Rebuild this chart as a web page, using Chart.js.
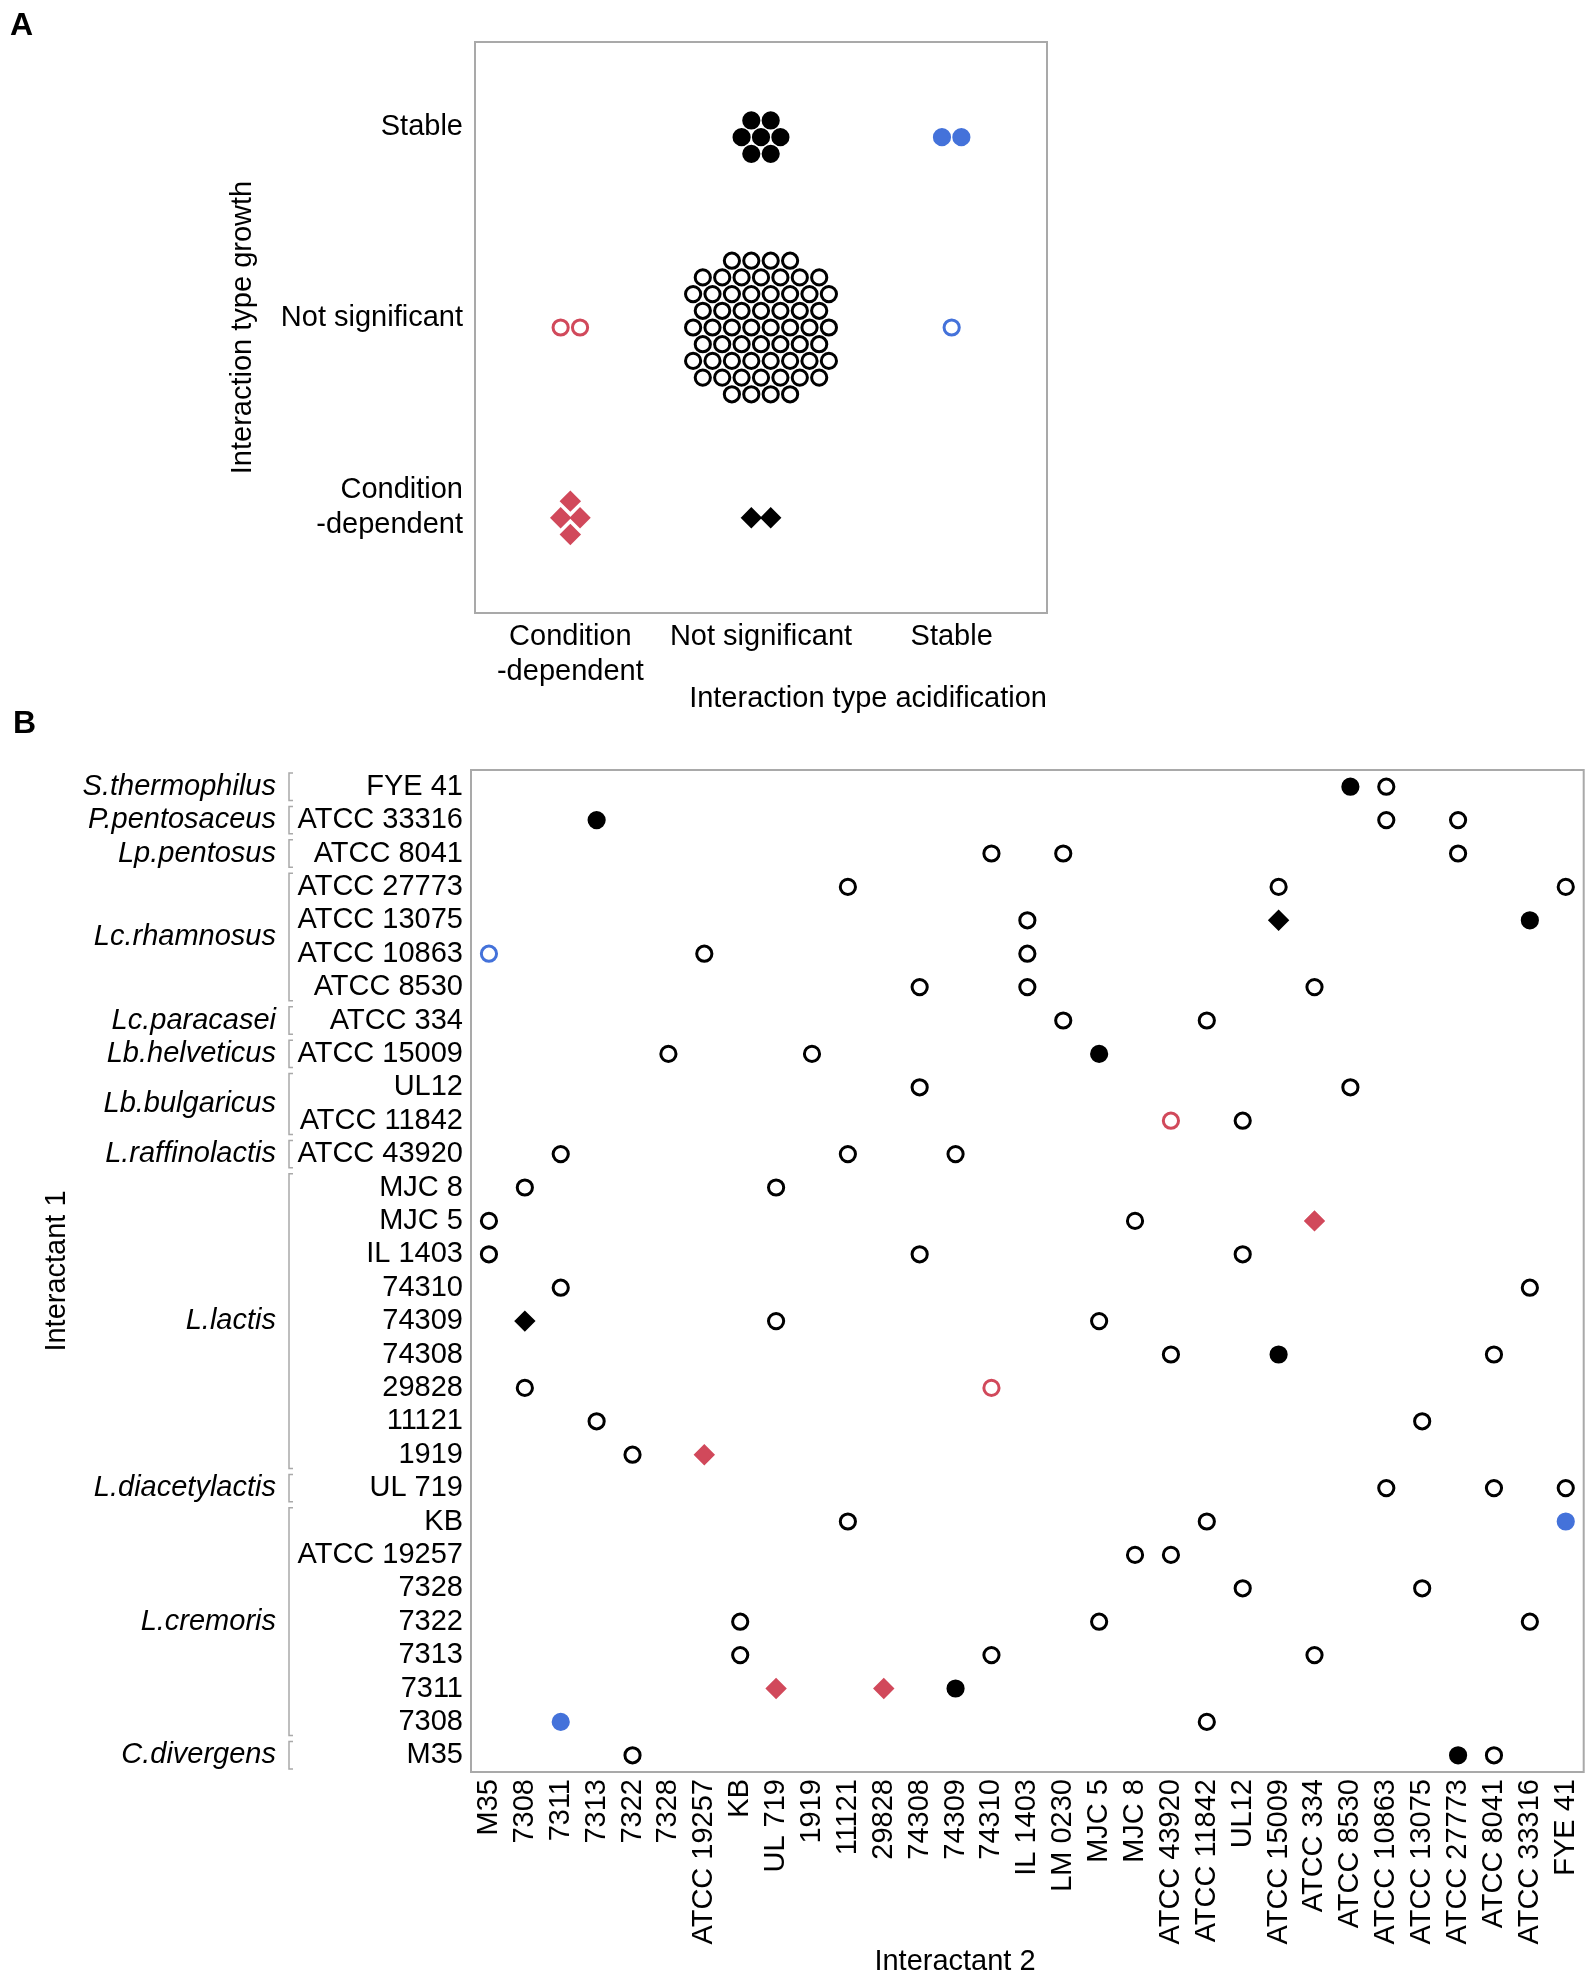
<!DOCTYPE html>
<html>
<head>
<meta charset="utf-8">
<script src="https://cdn.jsdelivr.net/npm/chart.js@4.4.1/dist/chart.umd.min.js"></script>
<style>
  body { margin: 0; background: #fff; }
  #page { position: relative; width: 1595px; height: 1987px; overflow: hidden; background: #fff; }
  canvas { position: absolute; left: 0; }
  #chartA { top: 0; }
  #chartB { top: 730px; }
  .panel { position: absolute; font: bold 32px "Liberation Sans", Arial, sans-serif; line-height: 1; z-index: 2; }
</style>
</head>
<body>
<div id="page">
  <div class="panel" style="left:10px; top:8px;">A</div>
  <div class="panel" style="left:13px; top:706px;">B</div>
  <canvas id="chartA" width="1100" height="720"></canvas>
  <canvas id="chartB" width="1595" height="1257"></canvas>
</div>
<script>
// ---- data ----
const interactant1 = ['FYE 41', 'ATCC 33316', 'ATCC 8041', 'ATCC 27773', 'ATCC 13075', 'ATCC 10863',
  'ATCC 8530', 'ATCC 334', 'ATCC 15009', 'UL12', 'ATCC 11842', 'ATCC 43920', 'MJC 8', 'MJC 5',
  'IL 1403', '74310', '74309', '74308', '29828', '11121', '1919', 'UL 719', 'KB', 'ATCC 19257',
  '7328', '7322', '7313', '7311', '7308', 'M35'];

const interactant2 = ['M35', '7308', '7311', '7313', '7322', '7328', 'ATCC 19257', 'KB', 'UL 719',
  '1919', '11121', '29828', '74308', '74309', '74310', 'IL 1403', 'LM 0230', 'MJC 5', 'MJC 8',
  'ATCC 43920', 'ATCC 11842', 'UL12', 'ATCC 15009', 'ATCC 334', 'ATCC 8530', 'ATCC 10863',
  'ATCC 13075', 'ATCC 27773', 'ATCC 8041', 'ATCC 33316', 'FYE 41'];

const speciesNames = ['S.thermophilus', 'P.pentosaceus', 'Lp.pentosus', 'Lc.rhamnosus', 'Lc.paracasei',
  'Lb.helveticus', 'Lb.bulgaricus', 'L.raffinolactis', 'L.lactis', 'L.diacetylactis', 'L.cremoris', 'C.divergens'];
const speciesSizes = [1, 1, 1, 4, 1, 1, 2, 1, 9, 1, 7, 1];

// tick labels of panel A (acidification on x, growth on y from top)
const acidificationTypes = [['Condition', '-dependent'], 'Not significant', 'Stable'];
const growthTypes = ['Stable', 'Not significant', ['Condition', '-dependent']];

// pairs [interactant 1, interactant 2] per interaction type (acidification / growth)
const nsNs = [
  ['FYE 41', 'ATCC 10863'],
  ['ATCC 33316', 'ATCC 10863'], ['ATCC 33316', 'ATCC 27773'],
  ['ATCC 8041', '74310'], ['ATCC 8041', 'LM 0230'], ['ATCC 8041', 'ATCC 27773'],
  ['ATCC 27773', '11121'], ['ATCC 27773', 'ATCC 15009'], ['ATCC 27773', 'FYE 41'],
  ['ATCC 13075', 'IL 1403'],
  ['ATCC 10863', 'ATCC 19257'], ['ATCC 10863', 'IL 1403'],
  ['ATCC 8530', '74308'], ['ATCC 8530', 'IL 1403'], ['ATCC 8530', 'ATCC 334'],
  ['ATCC 334', 'LM 0230'], ['ATCC 334', 'ATCC 11842'],
  ['ATCC 15009', '7328'], ['ATCC 15009', '1919'],
  ['UL12', '74308'], ['UL12', 'ATCC 8530'],
  ['ATCC 11842', 'UL12'],
  ['ATCC 43920', '7311'], ['ATCC 43920', '11121'], ['ATCC 43920', '74309'],
  ['MJC 8', '7308'], ['MJC 8', 'UL 719'],
  ['MJC 5', 'M35'], ['MJC 5', 'MJC 8'],
  ['IL 1403', 'M35'], ['IL 1403', '74308'], ['IL 1403', 'UL12'],
  ['74310', '7311'], ['74310', 'ATCC 33316'],
  ['74309', 'UL 719'], ['74309', 'MJC 5'],
  ['74308', 'ATCC 43920'], ['74308', 'ATCC 8041'],
  ['29828', '7308'],
  ['11121', '7313'], ['11121', 'ATCC 13075'],
  ['1919', '7322'],
  ['UL 719', 'ATCC 10863'], ['UL 719', 'ATCC 8041'], ['UL 719', 'FYE 41'],
  ['KB', '11121'], ['KB', 'ATCC 11842'],
  ['ATCC 19257', 'MJC 8'], ['ATCC 19257', 'ATCC 43920'],
  ['7328', 'UL12'], ['7328', 'ATCC 13075'],
  ['7322', 'KB'], ['7322', 'MJC 5'], ['7322', 'ATCC 33316'],
  ['7313', 'KB'], ['7313', '74310'], ['7313', 'ATCC 334'],
  ['7308', 'ATCC 11842'],
  ['M35', '7322'], ['M35', 'ATCC 8041']
];
const nsStable = [['FYE 41', 'ATCC 8530'], ['ATCC 33316', '7313'], ['ATCC 13075', 'ATCC 33316'],
  ['ATCC 15009', 'MJC 5'], ['74308', 'ATCC 15009'], ['7311', '74309'], ['M35', 'ATCC 27773']];
const stableStable = [['KB', 'FYE 41'], ['7308', '7311']];
const cdNs = [['ATCC 11842', 'ATCC 43920'], ['29828', '74310']];
const stableNs = [['ATCC 10863', 'M35']];
const cdCd = [['MJC 5', 'ATCC 334'], ['1919', 'ATCC 19257'], ['7311', 'UL 719'], ['7311', '29828']];
const nsCd = [['ATCC 13075', 'ATCC 15009'], ['74309', '7308']];

// acid: 0 condition-dependent, 1 not significant, 2 stable
// growth: 0 stable, 1 not significant, 2 condition-dependent
const groups = [
  { pairs: nsNs, acid: 1, growth: 1 },
  { pairs: nsStable, acid: 1, growth: 0 },
  { pairs: stableStable, acid: 2, growth: 0 },
  { pairs: cdNs, acid: 0, growth: 1 },
  { pairs: stableNs, acid: 2, growth: 1 },
  { pairs: cdCd, acid: 0, growth: 2 },
  { pairs: nsCd, acid: 1, growth: 2 }
];

// ---- styles ----
const RED = '#D1495B';
const BLUE = '#4472DA';
const GRAY = '#A9A9A9';
const acidColors = [RED, '#000000', BLUE];
const FONT = '"Liberation Sans", Arial, Helvetica, sans-serif';

Chart.defaults.font.family = FONT;
Chart.defaults.font.size = 29;
Chart.defaults.color = '#000';

function markStyle(g) {
  const c = acidColors[g.acid];
  if (g.growth === 2) {
    return { pointStyle: 'rectRot', pointRadius: 9.3, borderWidth: 2, borderColor: c, backgroundColor: c };
  }
  return {
    pointStyle: 'circle', pointRadius: 7.6, borderWidth: 3, borderColor: c,
    backgroundColor: g.growth === 1 ? '#ffffff' : c
  };
}

// fixed axis size, no extra room for overflowing labels
function fixSize(w, h) {
  return s => {
    if (w != null) s.width = w;
    if (h != null) s.height = h;
    s.paddingTop = s.paddingBottom = s.paddingLeft = s.paddingRight = 0;
  };
}

// draws the grey frame round the plot area
const frame = {
  id: 'frame',
  beforeDatasetsDraw(chart) {
    const { ctx, chartArea: a } = chart;
    ctx.save();
    ctx.strokeStyle = GRAY;
    ctx.lineWidth = 2;
    ctx.strokeRect(a.left, a.top, a.right - a.left, a.bottom - a.top);
    ctx.restore();
  }
};

// ---- panel A: swarm of all pairs per type ----
// hex lattice, n nearest cells to the category centre
function swarm(n, d, h) {
  const even = n % 2 === 0;
  const R = Math.ceil(Math.sqrt(n)) + 2;
  const cells = [];
  for (let r = -R; r <= R; r++) {
    for (let c = -R; c <= R; c++) {
      let x = (c + (Math.abs(r) % 2 ? 0.5 : 0)) * d;
      if (even) x -= d / 2;
      const y = r * h;
      cells.push({ x, y, dist: x * x + 0.8 * y * y });
    }
  }
  cells.sort((p, q) => p.dist - q.dist || p.y - q.y || p.x - q.x);
  return cells.slice(0, n);
}

const pxPerX = 572 / 3;
const pxPerY = 571 / 3;

const datasetsA = groups.map(g => ({
  data: swarm(g.pairs.length, 19.4, 16.7).map(p => ({
    x: g.acid + p.x / pxPerX,
    y: g.growth + p.y / pxPerY
  })),
  ...markStyle(g)
}));

new Chart(document.getElementById('chartA'), {
  type: 'scatter',
  data: { datasets: datasetsA },
  options: {
    responsive: false,
    animation: false,
    devicePixelRatio: 1,
    layout: { padding: { left: 226, right: 53, top: 42, bottom: 0 } },
    plugins: { legend: { display: false }, tooltip: { enabled: false } },
    scales: {
      x: {
        min: -0.5, max: 2.5,
        afterBuildTicks: s => { s.ticks = [0, 1, 2].map(v => ({ value: v })); },
        afterFit: fixSize(null, 107),
        ticks: { callback: v => acidificationTypes[v], padding: 7, maxRotation: 0 },
        grid: { display: false, drawTicks: false },
        border: { display: false },
        title: { display: true, text: 'Interaction type acidification', align: 'end', padding: { top: 0, bottom: 4 } }
      },
      y: {
        min: -0.5, max: 2.5, reverse: true,
        afterBuildTicks: s => { s.ticks = [0, 1, 2].map(v => ({ value: v })); },
        afterFit: fixSize(249, null),
        ticks: { callback: v => growthTypes[v], padding: 12, labelOffset: -10 },
        grid: { display: false, drawTicks: false },
        border: { display: false },
        title: { display: true, text: 'Interaction type growth', padding: 0 }
      }
    }
  },
  plugins: [frame]
});

// ---- panel B: pair matrix ----
const speciesCenters = [];
let start = 0;
speciesSizes.forEach(n => { speciesCenters.push(start + (n - 1) / 2); start += n; });

// brackets joining the strains of one species
const brackets = {
  id: 'brackets',
  afterDraw(chart) {
    const { ctx } = chart;
    const y = chart.scales.y;
    const half = (y.getPixelForValue(1) - y.getPixelForValue(0)) / 2;
    const x = y.left + 1;
    ctx.save();
    ctx.strokeStyle = GRAY;
    ctx.lineWidth = 1.5;
    let s = 0;
    speciesSizes.forEach(n => {
      const top = y.getPixelForValue(s) - half + 3;
      const bottom = y.getPixelForValue(s + n - 1) + half - 3;
      ctx.beginPath();
      ctx.moveTo(x + 4, top);
      ctx.lineTo(x, top);
      ctx.lineTo(x, bottom);
      ctx.lineTo(x + 4, bottom);
      ctx.stroke();
      s += n;
    });
    ctx.restore();
  }
};

// x title, centred the way the figure has it
const bottomTitle = {
  id: 'bottomTitle',
  afterDraw(chart) {
    const { ctx } = chart;
    ctx.save();
    ctx.font = '29px ' + FONT;
    ctx.fillStyle = '#000';
    ctx.textAlign = 'center';
    ctx.textBaseline = 'middle';
    ctx.fillText('Interactant 2', 955, chart.height - 25);
    ctx.restore();
  }
};

const datasetsB = groups.map(g => ({
  data: g.pairs.map(([a, b]) => ({ x: b, y: a })),
  ...markStyle(g)
}));

new Chart(document.getElementById('chartB'), {
  type: 'scatter',
  data: { datasets: datasetsB },
  options: {
    responsive: false,
    animation: false,
    devicePixelRatio: 1,
    layout: { padding: { left: 0, right: 10, top: 40, bottom: 0 } },
    plugins: { legend: { display: false }, tooltip: { enabled: false } },
    scales: {
      x: {
        type: 'category',
        labels: interactant2,
        offset: true,
        afterFit: fixSize(null, 215),
        ticks: { autoSkip: false, minRotation: 90, maxRotation: 90, padding: 7 },
        grid: { display: false, drawTicks: false },
        border: { display: false }
      },
      y: {
        type: 'category',
        labels: interactant1,
        offset: true,
        weight: 0,
        afterFit: fixSize(183, null),
        ticks: { autoSkip: false, padding: 8 },
        grid: { display: false, drawTicks: false },
        border: { display: false }
      },
      species: {
        type: 'linear',
        position: 'left',
        weight: 1,
        min: -0.5, max: interactant1.length - 0.5, reverse: true,
        afterBuildTicks: s => { s.ticks = speciesCenters.map(v => ({ value: v })); },
        afterFit: fixSize(288, null),
        ticks: { autoSkip: false, padding: 12, font: { style: 'italic' }, callback: (v, i) => speciesNames[i] },
        grid: { display: false, drawTicks: false },
        border: { display: false },
        title: { display: true, text: 'Interactant 1', padding: { top: 40, bottom: 0 } }
      }
    }
  },
  plugins: [frame, brackets, bottomTitle]
});
</script>
</body>
</html>
